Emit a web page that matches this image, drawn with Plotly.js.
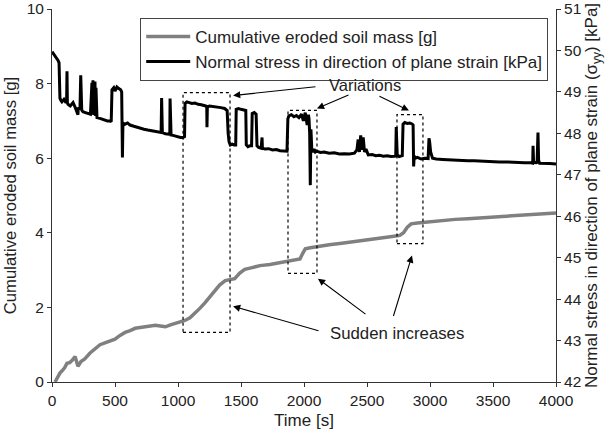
<!DOCTYPE html>
<html><head><meta charset="utf-8">
<script src="https://cdn.plot.ly/plotly-3.0.1.min.js"></script>
<style>html,body{margin:0;padding:0;background:#fff}#c{width:606px;height:430px}</style>
</head><body><div id="c"></div>
<script>
const massT = [24,40,55,63,80,100,119,140,160,183,195,206,230,260,300,340,381,420,460,500,540,580,620,660,700,740,780,820,860,900,940,975,1015,1055,1095,1135,1175,1215,1255,1290,1330,1375,1410,1450,1490,1530,1580,1650,1730,1810,1890,1930,1968,1990,2010,2050,2100,2200,2300,2400,2500,2600,2700,2760,2790,2820,2850,2900,3000,3100,3200,3300,3400,3500,3600,3700,3800,3900,4000];
const massV = [0.0,0.1,0.2,0.24,0.30,0.38,0.50,0.52,0.58,0.68,0.55,0.42,0.55,0.62,0.77,0.88,1.0,1.05,1.10,1.15,1.25,1.33,1.38,1.44,1.46,1.48,1.50,1.52,1.50,1.48,1.53,1.57,1.60,1.65,1.72,1.84,1.98,2.13,2.30,2.45,2.60,2.72,2.74,2.77,2.92,3.02,3.06,3.12,3.15,3.20,3.24,3.26,3.30,3.45,3.57,3.60,3.63,3.68,3.72,3.76,3.80,3.86,3.90,3.93,4.00,4.15,4.24,4.26,4.30,4.33,4.36,4.38,4.40,4.43,4.46,4.48,4.50,4.52,4.53];

const stressT = [0,12,24,36,48,56,60,63,70,79,95,111,116,119,122,127,145,167,185,206,208,215,222,228,230,232,236,240,246,265,286,305,317,320,325,328,333,336,341,345,349,353,357,380,400,421,440,460,470,476,490,500,515,530,545,553,556,559,563,570,579,600,619,650,680,700,730,760,790,820,850,866,870,873,876,880,900,930,935,937,940,945,960,980,1000,1020,1040,1052,1056,1070,1090,1110,1135,1160,1185,1205,1220,1228,1230,1233,1250,1280,1310,1340,1370,1390,1398,1405,1415,1430,1445,1458,1462,1480,1500,1520,1538,1542,1555,1570,1584,1589,1605,1620,1627,1640,1660,1667,1670,1690,1720,1750,1780,1810,1840,1865,1872,1880,1900,1920,1940,1960,1980,1995,2010,2025,2035,2040,2045,2050,2055,2062,2070,2080,2090,2100,2130,2160,2200,2240,2280,2320,2360,2400,2420,2430,2440,2450,2460,2470,2480,2492,2510,2540,2570,2600,2630,2660,2690,2720,2728,2732,2740,2755,2770,2780,2786,2800,2820,2840,2860,2866,2870,2875,2885,2900,2930,2960,2985,2992,2997,3005,3020,3050,3100,3150,3200,3250,3300,3350,3400,3450,3500,3550,3600,3650,3700,3750,3800,3815,3818,3822,3845,3850,3857,3862,3870,3900,3950,4000];
const stressV = [49.97,49.92,49.88,49.82,49.76,49.70,48.95,48.85,48.80,48.76,48.82,48.74,48.78,49.50,48.74,48.70,48.66,48.74,48.62,48.45,48.62,48.60,48.58,49.40,48.62,49.35,48.56,48.54,48.52,48.50,48.47,48.46,49.22,48.48,49.28,48.45,49.18,48.44,49.25,48.42,49.10,48.40,48.38,48.36,48.34,48.32,48.30,48.30,48.28,49.05,49.10,49.02,49.12,49.08,49.05,49.00,48.30,47.42,48.25,48.24,48.22,48.25,48.20,48.17,48.14,48.12,48.10,48.08,48.06,48.05,48.03,48.02,48.85,48.02,48.00,48.01,47.99,47.98,47.97,48.84,47.98,47.96,47.95,47.93,47.92,47.90,47.90,47.92,48.72,48.76,48.74,48.72,48.73,48.70,48.69,48.68,48.66,48.65,48.15,48.64,48.66,48.65,48.63,48.62,48.60,48.55,48.00,47.80,47.72,47.74,47.72,47.72,48.58,48.60,48.58,48.57,48.55,47.72,47.68,47.70,47.70,48.48,48.50,48.46,47.70,47.66,47.64,47.90,47.64,47.62,47.63,47.60,47.61,47.58,47.58,47.57,48.35,48.42,48.45,48.40,48.43,48.38,48.46,48.30,48.50,48.20,48.45,48.35,48.0,46.75,48.1,47.6,47.55,47.62,47.55,47.57,47.54,47.55,47.52,47.53,47.50,47.51,47.50,47.52,47.60,47.85,47.55,47.95,47.60,47.90,47.55,47.62,47.48,47.49,47.46,47.47,47.45,47.46,47.44,47.44,47.45,48.15,47.48,47.44,47.45,47.46,48.22,48.26,48.24,48.25,48.22,48.20,47.20,47.45,47.40,47.42,47.38,47.40,47.39,47.88,47.80,47.55,47.40,47.38,47.37,47.36,47.36,47.35,47.34,47.34,47.33,47.33,47.32,47.31,47.31,47.30,47.30,47.29,47.29,47.28,47.70,47.30,47.29,47.30,48.02,47.35,47.28,47.27,47.27,47.26];

const xTicks = [0,500,1000,1500,2000,2500,3000,3500,4000];
const yTicks = [0,2,4,6,8,10];
const y2Ticks = [42,43,44,45,46,47,48,49,50,51];

// dotted boxes: [x0, x1, y0, y1] in data units (left axis)
const boxes = [[1040,1413,1.33,7.76],[1873,2103,2.91,7.28],[2738,2944,3.71,7.17]];
// arrows: [tipX, tipY, tailX, tailY]
const varArrows = [[1437,7.68,2103,7.92],[2103,7.33,2365,7.71],[2833,7.28,2587,7.68]];
const incArrows = [[1437,2.03,2127,1.36],[2111,2.77,2500,1.79],[2857,3.39,2706,1.73]];

const font = 'Liberation Sans, Arial, sans-serif';
const axCommon = {showline:true, linecolor:'#333', linewidth:1, ticks:'outside', ticklen:4, tickcolor:'#333',
  showgrid:false, zeroline:false, tickfont:{size:15.5, color:'#222'}, ticklabeloverflow:'allow'};

const traces = [
  {x:massT, y:massV, type:'scatter', mode:'lines', name:'Cumulative eroded soil mass [g]',
   line:{color:'#808080', width:3.5}, yaxis:'y'},
  {x:stressT, y:stressV, type:'scatter', mode:'lines', name:'Normal stress in direction of plane strain [kPa]',
   line:{color:'#000', width:3}, yaxis:'y2'}
];

const shapes = boxes.map(b => ({type:'rect', xref:'x', yref:'y', x0:b[0], x1:b[1], y0:b[2], y1:b[3],
  line:{color:'#000', width:1.2, dash:'dot'}}));

const arrow = a => ({x:a[0], y:a[1], ax:a[2], ay:a[3], xref:'x', yref:'y', axref:'x', ayref:'y',
  text:'', showarrow:true, arrowhead:2, arrowsize:1.3, arrowwidth:1.1, arrowcolor:'#000', standoff:0});
const annotations = [
  ...varArrows.map(arrow), ...incArrows.map(arrow),
  {x:2484, y:7.97, xref:'x', yref:'y', text:'Variations', showarrow:false, font:{size:16.5, color:'#222'}},
  {x:2738, y:1.31, xref:'x', yref:'y', text:'Sudden increases', showarrow:false, font:{size:16.8, color:'#222'}}
];

const layout = {
  width:606, height:430, margin:{l:52, r:50, t:9, b:48},
  paper_bgcolor:'#fff', plot_bgcolor:'#fff',
  font:{family:font, size:16, color:'#222'},
  showlegend:true,
  legend:{x:0.175, y:0.976, xanchor:'left', yanchor:'top', bordercolor:'#444', borderwidth:1, bgcolor:'#fff',
    font:{size:17, color:'#222'}, traceorder:'normal', itemwidth:44, tracegroupgap:0},
  xaxis:Object.assign({}, axCommon, {range:[0,4000], tickvals:xTicks, title:{text:'Time [s]', font:{size:17}, standoff:7}}),
  yaxis:Object.assign({}, axCommon, {range:[0,10], tickvals:yTicks, title:{text:'Cumulative eroded soil mass [g]', font:{size:16.7}, standoff:5}}),
  yaxis2:Object.assign({}, axCommon, {range:[42,51], tickvals:y2Ticks, overlaying:'y', side:'right',
    title:{text:'Normal stress in direction of plane strain (σ<sub>yy</sub>) [kPa]', font:{size:17}, standoff:4}}),
  shapes:shapes, annotations:annotations
};
Plotly.newPlot('c', traces, layout, {staticPlot:true, displayModeBar:false});
</script></body></html>
